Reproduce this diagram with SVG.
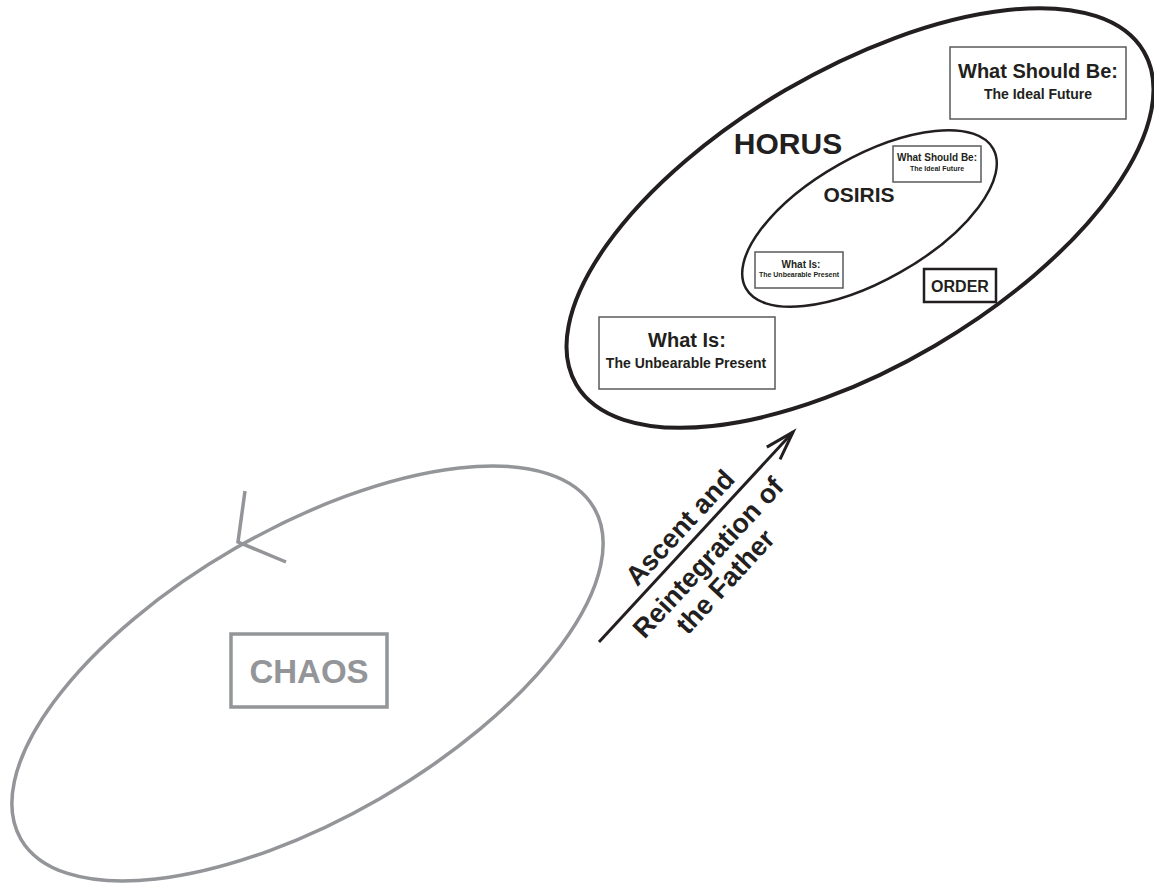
<svg xmlns="http://www.w3.org/2000/svg" width="1154" height="884" viewBox="0 0 1154 884">
<style>
text{font-family:"Liberation Sans",Arial,sans-serif;font-weight:bold;fill:#231f20;text-anchor:middle}
.box{fill:#fff;stroke:#58595b;stroke-width:1.5}
.ell{fill:none;stroke:#231f20}
.gray{fill:none;stroke:#939598;stroke-width:3.5}
</style>
<rect width="1154" height="884" fill="#fff"/>
<g id="chaos">
<ellipse class="gray" cx="307.5" cy="673.5" rx="331" ry="144.5" transform="rotate(-30 307.5 673.5)"/>
<polyline class="gray" points="245,491 238,542 286,562"/>
<rect x="231" y="634" width="156" height="73" class="gray"/>
<text x="309" y="683" style="font-size:33px;fill:#939598">CHAOS</text>
</g>
<g id="horus">
<ellipse class="ell" cx="860" cy="218" rx="329" ry="148" transform="rotate(-30.4 860 218)" stroke-width="4"/>
<text x="788" y="154" style="font-size:30px">HORUS</text>
</g>
<g id="osiris">
<ellipse class="ell" cx="869.5" cy="218.5" rx="142" ry="62" transform="rotate(-29.5 869.5 218.5)" stroke-width="2.5"/>
<text x="859" y="202" style="font-size:21px">OSIRIS</text>
</g>
<g id="should-big">
<rect class="box" x="950" y="47" width="176" height="72"/>
<text x="1038" y="78" style="font-size:20px">What Should Be:</text>
<text x="1038" y="99" style="font-size:14px">The Ideal Future</text>
</g>
<g id="is-big">
<rect class="box" x="599" y="317" width="176" height="72"/>
<text x="687" y="347" style="font-size:20px">What Is:</text>
<text x="686" y="368" style="font-size:14px">The Unbearable Present</text>
</g>
<g id="should-small">
<rect class="box" x="893" y="146" width="88" height="36"/>
<text x="937" y="161" style="font-size:10px">What Should Be:</text>
<text x="937" y="171" style="font-size:7px">The Ideal Future</text>
</g>
<g id="is-small">
<rect class="box" x="755" y="252" width="88" height="36"/>
<text x="801" y="268" style="font-size:10px">What Is:</text>
<text x="799" y="277" style="font-size:7px">The Unbearable Present</text>
</g>
<g id="order">
<rect x="924" y="269" width="72" height="33" fill="#fff" stroke="#231f20" stroke-width="2.5"/>
<text x="960" y="292" style="font-size:16px">ORDER</text>
</g>
<g id="connectors">
<g transform="translate(599 642) rotate(-47.26)">
<line x1="0" y1="0" x2="286" y2="0" stroke="#231f20" stroke-width="3"/>
<polyline points="257,-9 286,0 257,9" fill="none" stroke="#231f20" stroke-width="3"/>
<text x="139" y="-9" style="font-size:27px">Ascent and</text>
<text x="136" y="32" style="font-size:27px">Reintegration of</text>
<text x="130" y="61" style="font-size:27px">the Father</text>
</g>
</g>
</svg>
